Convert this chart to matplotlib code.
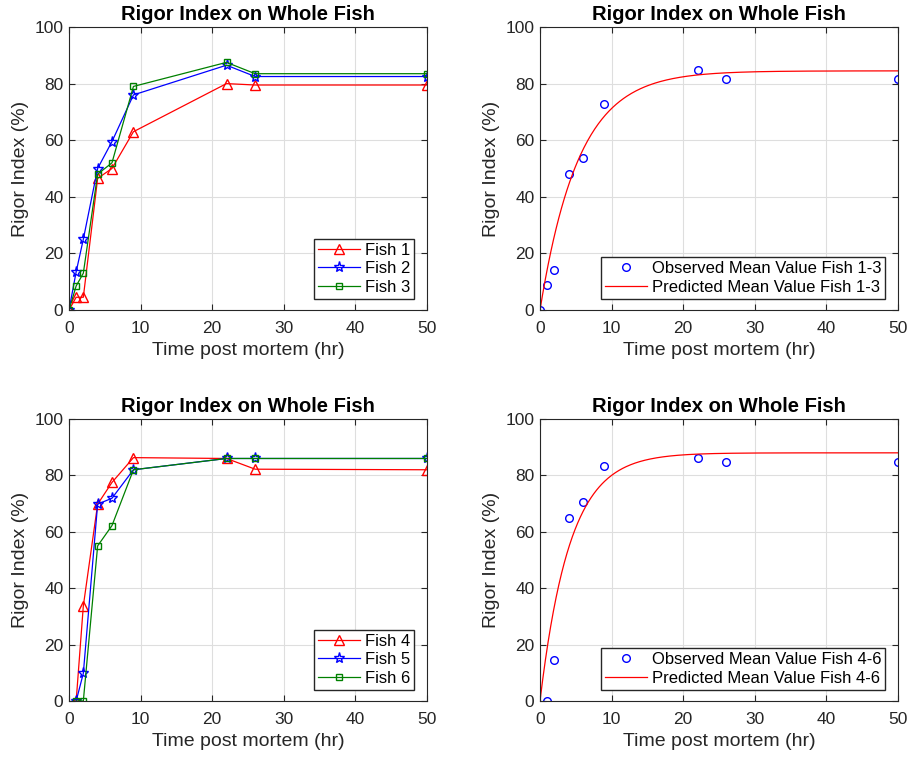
import numpy as np
import matplotlib
matplotlib.use("Agg")
import matplotlib.pyplot as plt

plt.rcParams["font.family"] = ["Liberation Sans", "DejaVu Sans"]

# sampling times (hr post mortem)
t_top = [0, 1, 2, 4, 6, 9, 22, 26, 50]
t_bot = [1, 2, 4, 6, 9, 22, 26, 50]

fish1 = [0, 4.5, 4.5, 46.5, 50, 63, 80, 79.5, 79.5]
fish2 = [0, 13.5, 25, 50, 59.5, 76, 86.5, 82.5, 82.5]
fish3 = [0, 8.5, 13, 48, 52, 79, 87.5, 83.5, 83.5]

fish4 = [0, 33.7, 69.8, 77.5, 86.3, 86, 82.2, 82]
fish5 = [0, 9.8, 69.8, 71.9, 82, 86, 86, 86]
fish6 = [0, 0, 55, 62.2, 82, 86, 86, 86]

mean13 = [0, 9, 14.2, 48.2, 53.8, 72.7, 84.7, 81.8, 81.8]
mean46 = [0, 14.5, 64.9, 70.5, 83.4, 86, 84.7, 84.7]

# fitted model parameters: RI = a * (1 - exp(-k t))
fit13 = (84.5, 0.185)
fit46 = (88.0, 0.24)

fig = plt.figure(figsize=(9.12, 7.57), dpi=100)
W, H = 912, 757


def add_axes(x0, y_top, x1, y_bot):
    return fig.add_axes([x0 / W, 1 - y_bot / H, (x1 - x0) / W, (y_bot - y_top) / H])


def style(ax):
    ax.set_xlim(0, 50)
    ax.set_ylim(0, 100)
    ax.set_xticks([0, 10, 20, 30, 40, 50])
    ax.set_yticks([0, 20, 40, 60, 80, 100])
    ax.grid(True, color="#dedede", linewidth=0.8)
    ax.set_axisbelow(True)
    ax.tick_params(direction="in", top=True, right=True, labelsize=12.5,
                   length=4, color="#262626", labelcolor="#262626")
    ax.tick_params(axis="x", pad=8)
    ax.tick_params(axis="y", pad=4)
    for s in ax.spines.values():
        s.set_color("#262626")
        s.set_linewidth(0.8)
    ax.set_title("Rigor Index on Whole Fish", fontsize=14.5, fontweight="bold", pad=5)
    ax.set_xlabel("Time post mortem (hr)", fontsize=14, labelpad=4, color="#262626")
    ax.set_ylabel("Rigor Index (%)", fontsize=14, labelpad=4, color="#262626")


def add_legend(ax):
    ax.legend(loc="lower right", fontsize=12, frameon=True, fancybox=False,
              edgecolor="#262626", framealpha=1, borderpad=0.25, labelspacing=0.2,
              handlelength=2.5, handletextpad=0.3, borderaxespad=0,
              bbox_to_anchor=(0.965, 0.04))


def fish_panel(ax, t, series, labels):
    specs = [("red", "^", 7), ("blue", "*", 8), ("green", "s", 5)]
    for vals, lab, (c, m, ms) in zip(series, labels, specs):
        ax.plot(t, vals, color=c, marker=m, markersize=ms, markerfacecolor="none",
                markeredgecolor=c, linewidth=0.9, label=lab)
    style(ax)
    add_legend(ax)


def fit_panel(ax, t, obs, fit, label):
    a, k = fit
    tt = np.linspace(0, 50, 400)
    ax.plot(t, obs, linestyle="none", marker="o", markersize=5.5, markerfacecolor="none",
            markeredgecolor="blue", label=f"Observed Mean Value {label}")
    ax.plot(tt, a * (1 - np.exp(-k * tt)), color="red", linewidth=0.9,
            label=f"Predicted Mean Value {label}")
    style(ax)
    add_legend(ax)


ax1 = add_axes(69, 27, 427, 310)
fish_panel(ax1, t_top, [fish1, fish2, fish3], ["Fish 1", "Fish 2", "Fish 3"])
ax2 = add_axes(540, 27, 898, 310)
fit_panel(ax2, t_top, mean13, fit13, "Fish 1-3")
ax3 = add_axes(69, 419, 427, 701)
fish_panel(ax3, t_bot, [fish4, fish5, fish6], ["Fish 4", "Fish 5", "Fish 6"])
ax4 = add_axes(540, 419, 898, 701)
fit_panel(ax4, t_bot, mean46, fit46, "Fish 4-6")

fig.savefig("out.png", dpi=100)
